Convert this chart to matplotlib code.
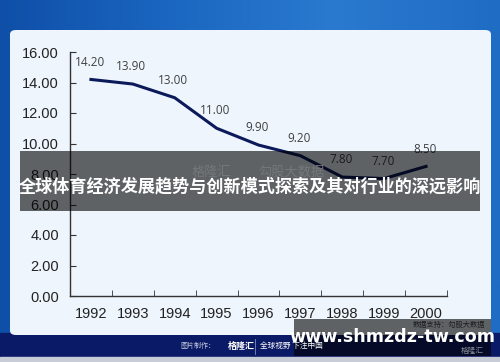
import numpy as np
import matplotlib
matplotlib.use("Agg")
import matplotlib.pyplot as plt
from matplotlib.patches import FancyBboxPatch, Rectangle

plt.rcParams['font.family'] = ['Liberation Sans', 'Noto Sans CJK SC', 'DejaVu Sans']

years = ["1992", "1993", "1994", "1995", "1996", "1997", "1998", "1999", "2000"]
values = [14.20, 13.90, 13.00, 11.00, 9.90, 9.20, 7.80, 7.70, 8.50]
yticks = [0, 2, 4, 6, 8, 10, 12, 14, 16]
banner_text = "全球体育经济发展趋势与创新模式探索及其对行业的深远影响"
site_text = "www.shmzdz-tw.com"

W, H = 500, 362
fig = plt.figure(figsize=(W / 100, H / 100), dpi=100)


def px(x, y, w, h):
    # pixel box (top-left origin) -> figure fraction
    return (x / W, 1 - (y + h) / H, w / W, h / H)


# blue frame background with gradient
grad = np.linspace(0, 1, 256).reshape(1, -1)
bg = fig.add_axes([0, 0, 1, 1])
bg.imshow(grad, aspect="auto", extent=[0, 1, 0, 1],
          cmap=matplotlib.colors.LinearSegmentedColormap.from_list(
              "b", ["#0f4fa8", "#1a66c0", "#2a7ad0", "#1f6cc4"]))
bg.set_xlim(0, 1)
bg.set_ylim(0, 1)
bg.axis("off")

# bottom navy bar
bg.add_patch(Rectangle((0, 5 / H), 1, 24 / H, color="#0b1a66", zorder=2))
bg.add_patch(Rectangle((0, 0), 1, 5 / H, color="#c8ccd6", zorder=2))

# light panel
x0, y0, w0, h0 = px(10, 30, 481, 305)
bg.add_patch(FancyBboxPatch((x0, y0), w0, h0,
                            boxstyle="round,pad=0,rounding_size=0.012",
                            facecolor="#eef5fd", edgecolor="none", zorder=3))

# main chart
ax = fig.add_axes(px(70, 52, 377, 244))
ax.set_facecolor("none")
xs = np.arange(len(years))
ax.plot(xs, values, color="#0c1a5a", linewidth=2.2, zorder=5)
for x, v in zip(xs, values):
    ax.annotate(f"{v:.2f}", (x, v), xytext=(-1, 12.5), textcoords="offset points",
                ha="center", va="center", fontsize=8.5, color="#404040",
                family=["Open Sans", "DejaVu Sans"])
ax.set_xlim(-0.5, len(years) - 0.5)
ax.set_ylim(0, 16)
ax.set_yticks(yticks)
ax.set_yticklabels([f"{t:.2f}" for t in yticks], fontsize=10.5, color="#222222")
ax.set_xticks(xs)
ax.set_xticklabels(years, fontsize=10.5, color="#222222")
ax.set_xticks(np.arange(len(years) + 1) - 0.5, minor=True)
ax.tick_params(axis="x", which="major", length=0, pad=8)
ax.tick_params(axis="x", which="minor", length=4, direction="in", color="#333333")
ax.tick_params(axis="y", length=4, direction="in", color="#333333", pad=8)
for s in ["top", "right"]:
    ax.spines[s].set_visible(False)
for s in ["left", "bottom"]:
    ax.spines[s].set_color("#333333")
    ax.spines[s].set_linewidth(1.0)

# overlay layer
ov = fig.add_axes([0, 0, 1, 1], zorder=10)
ov.set_xlim(0, W)
ov.set_ylim(H, 0)
ov.axis("off")

# banner
ov.add_patch(Rectangle((20, 151), 460, 60, color="black", alpha=0.6, linewidth=0))
ov.text(192, 172, "格隆汇", color="#74777b", fontsize=9.5, ha="left", va="center",
        family=["Noto Sans CJK SC"])
ov.text(258, 172, "勾股大数据", color="#74777b", fontsize=9.5, ha="left", va="center",
        family=["Noto Sans CJK SC"])
ov.text(250, 186, banner_text, color="white", fontsize=12.3, fontweight="bold",
        ha="center", va="center", family=["Noto Sans CJK SC"])

# bottom texts
ov.text(180, 346, "图片制作：", color="#c8cde0", fontsize=5, ha="left", va="center",
        family=["Noto Sans CJK SC"])
ov.text(228, 346, "格隆汇", color="white", fontsize=6.5, fontweight="bold",
        ha="left", va="center", family=["Noto Sans CJK SC"])
ov.plot([255, 255], [339, 354], color="#8090c0", linewidth=0.6)
ov.text(260, 346, "全球视野 下注中国", color="white", fontsize=5.5, ha="left",
        va="center", family=["Noto Sans CJK SC"])

# site watermark
ov.add_patch(Rectangle((294, 319), 197, 37, color="black", alpha=0.6, linewidth=0))
ov.text(485, 325, "数据支持：勾股大数据", color="#1c1c1c", fontsize=5.2, ha="right",
        va="center", family=["Noto Sans CJK SC"])
ov.text(392, 337, site_text, color="white", fontsize=12.6, fontweight="bold",
        ha="center", va="center", family=["DejaVu Sans"])
ov.text(472, 351, "格隆汇", color="#8a8e98", fontsize=5.5, ha="center", va="center",
        family=["Noto Sans CJK SC"])

fig.savefig("out.png", dpi=100)
